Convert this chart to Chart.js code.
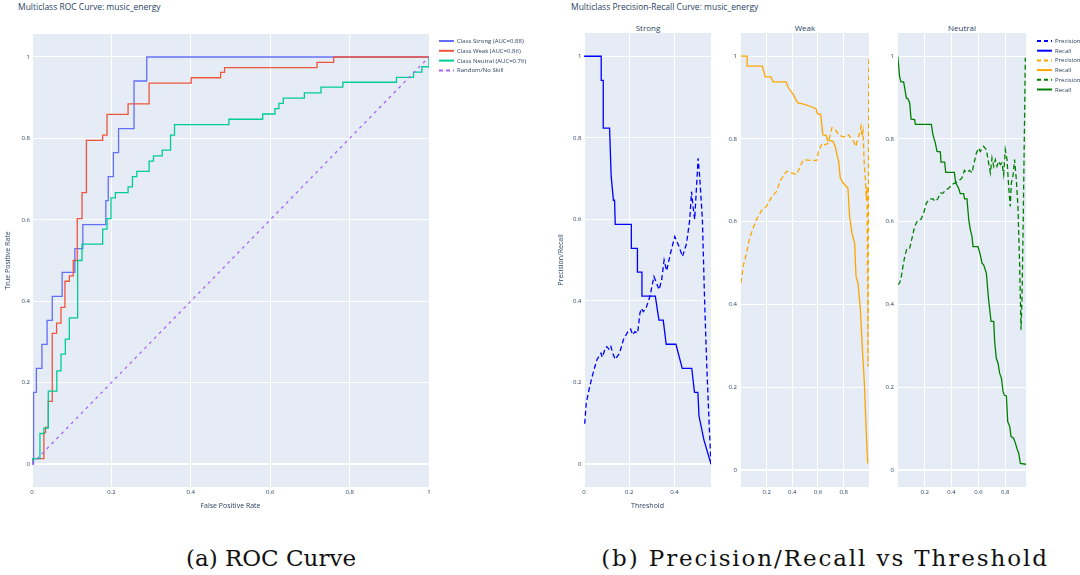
<!DOCTYPE html>
<html>
<head>
<meta charset="utf-8">
<title>music_energy ROC and precision/recall curves</title>
<script src="https://cdn.jsdelivr.net/npm/chart.js@4.4.1/dist/chart.umd.min.js"></script>
<style>
  html, body { margin: 0; padding: 0; background: #fff; }
  body { position: relative; width: 1080px; height: 575px; overflow: hidden; font-family: "Open Sans", sans-serif; }
  canvas { position: absolute; top: 0; }
  .title { position: absolute; top: 2px; font-size: 8.5px; line-height: 10px; color: #2a3f5f; white-space: nowrap; }
  .sub { position: absolute; top: 23px; width: 128px; text-align: center; font-size: 8px; line-height: 10px; color: #2a3f5f; }
  .caption { position: absolute; top: 544px; width: 500px; text-align: center; font-family: "DejaVu Serif", serif; font-size: 23px; line-height: 28px; color: #111; white-space: nowrap; }
  #legends { position: absolute; top: 0; left: 0; }
</style>
</head>
<body>
<div class="title" style="left:18px">Multiclass ROC Curve: music_energy</div>
<div class="title" style="left:571px">Multiclass Precision-Recall Curve: music_energy</div>
<div class="sub" style="left:584px">Strong</div>
<div class="sub" style="left:741px">Weak</div>
<div class="sub" style="left:898px">Neutral</div>
<canvas id="roc"></canvas>
<canvas id="prStrong"></canvas>
<canvas id="prWeak"></canvas>
<canvas id="prNeutral"></canvas>
<svg id="legends" width="1080" height="110"></svg>
<div class="caption" style="left:21px">(a) ROC Curve</div>
<div class="caption" style="left:575px; letter-spacing:1.9px">(b) Precision/Recall vs Threshold</div>
<script>
// ROC curves (fpr / tpr corner points)
const rocStrongFpr = [0, 0.004, 0.004, 0.011, 0.011, 0.025, 0.025, 0.038, 0.038, 0.051, 0.051, 0.076, 0.076, 0.108, 0.108, 0.128, 0.128, 0.186, 0.186, 0.192, 0.192, 0.205, 0.205, 0.218, 0.218, 0.257, 0.257, 0.289, 0.289, 1];
const rocStrongTpr = [0, 0, 0.176, 0.176, 0.235, 0.235, 0.294, 0.294, 0.353, 0.353, 0.412, 0.412, 0.471, 0.471, 0.529, 0.529, 0.588, 0.588, 0.647, 0.647, 0.706, 0.706, 0.765, 0.765, 0.824, 0.824, 0.941, 0.941, 1, 1];
const rocWeakFpr = [0, 0, 0.03, 0.03, 0.034, 0.034, 0.041, 0.041, 0.051, 0.051, 0.062, 0.062, 0.073, 0.073, 0.083, 0.083, 0.094, 0.094, 0.104, 0.104, 0.114, 0.114, 0.126, 0.126, 0.137, 0.137, 0.178, 0.178, 0.189, 0.189, 0.242, 0.242, 0.295, 0.295, 0.401, 0.401, 0.475, 0.475, 0.485, 0.485, 0.718, 0.718, 0.76, 0.76, 1];
const rocWeakTpr = [0, 0.013, 0.013, 0.077, 0.077, 0.09, 0.09, 0.154, 0.154, 0.321, 0.321, 0.346, 0.346, 0.385, 0.385, 0.449, 0.449, 0.462, 0.462, 0.5, 0.5, 0.603, 0.603, 0.667, 0.667, 0.795, 0.795, 0.808, 0.808, 0.859, 0.859, 0.885, 0.885, 0.936, 0.936, 0.949, 0.949, 0.962, 0.962, 0.974, 0.974, 0.987, 0.987, 1, 1];
const rocNeutralFpr = [0, 0, 0.02, 0.02, 0.03, 0.03, 0.041, 0.041, 0.0625, 0.0625, 0.073, 0.073, 0.084, 0.084, 0.094, 0.094, 0.115, 0.115, 0.126, 0.126, 0.178, 0.178, 0.189, 0.189, 0.199, 0.199, 0.21, 0.21, 0.242, 0.242, 0.253, 0.253, 0.264, 0.264, 0.295, 0.295, 0.306, 0.306, 0.328, 0.328, 0.349, 0.349, 0.359, 0.359, 0.496, 0.496, 0.581, 0.581, 0.612, 0.612, 0.622, 0.622, 0.633, 0.633, 0.686, 0.686, 0.728, 0.728, 0.783, 0.783, 0.918, 0.918, 0.961, 0.961, 0.982, 0.982, 1, 1];
const rocNeutralTpr = [0, 0.013, 0.013, 0.075, 0.075, 0.088, 0.088, 0.179, 0.179, 0.229, 0.229, 0.27, 0.27, 0.307, 0.307, 0.359, 0.359, 0.5, 0.5, 0.54, 0.54, 0.577, 0.577, 0.603, 0.603, 0.654, 0.654, 0.667, 0.667, 0.681, 0.681, 0.706, 0.706, 0.719, 0.719, 0.744, 0.744, 0.757, 0.757, 0.771, 0.771, 0.808, 0.808, 0.834, 0.834, 0.847, 0.847, 0.86, 0.86, 0.873, 0.873, 0.886, 0.886, 0.899, 0.899, 0.912, 0.912, 0.926, 0.926, 0.938, 0.938, 0.95, 0.95, 0.963, 0.963, 0.976, 0.976, 1];
const rocRandom = [0, 1];
const rocLabels = ['Class Strong (AUC=0.88)', 'Class Weak (AUC=0.86)', 'Class Neutral (AUC=0.76)', 'Random/No Skill'];
const rocTicks = [0, 0.2, 0.4, 0.6, 0.8, 1];

// precision / recall against threshold
const strongRecThr = [0, 0.076, 0.076, 0.085, 0.085, 0.113, 0.12, 0.13, 0.135, 0.138, 0.209, 0.209, 0.236, 0.236, 0.256, 0.256, 0.315, 0.331, 0.35, 0.363, 0.406, 0.434, 0.476, 0.488, 0.503, 0.508, 0.53, 0.561];
const strongRec = [1, 1, 0.941, 0.941, 0.824, 0.824, 0.706, 0.647, 0.647, 0.588, 0.588, 0.529, 0.529, 0.471, 0.471, 0.412, 0.412, 0.353, 0.353, 0.294, 0.294, 0.235, 0.235, 0.176, 0.176, 0.118, 0.059, 0];
const strongPrecThr = [0.003, 0.010, 0.025, 0.040, 0.057, 0.075, 0.081, 0.094, 0.101, 0.113, 0.119, 0.127, 0.138, 0.157, 0.174, 0.196, 0.206, 0.215, 0.225, 0.237, 0.247, 0.254, 0.262, 0.274, 0.291, 0.309, 0.320, 0.332, 0.343, 0.354, 0.365, 0.382, 0.401, 0.420, 0.435, 0.453, 0.467, 0.475, 0.482, 0.489, 0.497, 0.504, 0.511, 0.523, 0.533, 0.543, 0.552, 0.561];
const strongPrec = [0.099, 0.150, 0.190, 0.223, 0.256, 0.272, 0.262, 0.284, 0.288, 0.280, 0.288, 0.272, 0.257, 0.272, 0.305, 0.327, 0.331, 0.317, 0.325, 0.321, 0.370, 0.382, 0.374, 0.382, 0.411, 0.460, 0.444, 0.428, 0.452, 0.500, 0.474, 0.517, 0.558, 0.533, 0.509, 0.541, 0.599, 0.668, 0.630, 0.600, 0.680, 0.750, 0.705, 0.600, 0.395, 0.231, 0.109, 0];

const weakRecThr = [0, 0.048, 0.048, 0.166, 0.19, 0.233, 0.25, 0.351, 0.37, 0.408, 0.442, 0.481, 0.539, 0.585, 0.596, 0.622, 0.638, 0.664, 0.675, 0.717, 0.735, 0.748, 0.761, 0.774, 0.795, 0.834, 0.847, 0.865, 0.886, 0.897, 0.912, 0.931, 0.944, 0.962, 0.977, 0.988];
const weakRec = [1, 1, 0.976, 0.976, 0.95, 0.95, 0.938, 0.938, 0.923, 0.907, 0.887, 0.885, 0.879, 0.873, 0.861, 0.859, 0.81, 0.808, 0.797, 0.794, 0.782, 0.762, 0.746, 0.706, 0.694, 0.681, 0.613, 0.573, 0.548, 0.468, 0.452, 0.387, 0.306, 0.21, 0.089, 0.016];
const weakPrecThr = [0, 0.017, 0.043, 0.064, 0.09, 0.121, 0.16, 0.199, 0.226, 0.252, 0.278, 0.304, 0.33, 0.356, 0.395, 0.434, 0.461, 0.487, 0.539, 0.591, 0.604, 0.63, 0.656, 0.675, 0.69, 0.709, 0.735, 0.761, 0.787, 0.813, 0.839, 0.857, 0.878, 0.896, 0.909, 0.925, 0.936, 0.944, 0.951, 0.962, 0.97, 0.977, 0.983, 0.988, 0.99, 0.993, 0.996];
const weakPrec = [0.452, 0.492, 0.524, 0.556, 0.581, 0.605, 0.627, 0.637, 0.653, 0.665, 0.673, 0.698, 0.71, 0.722, 0.718, 0.714, 0.734, 0.75, 0.748, 0.748, 0.77, 0.789, 0.786, 0.789, 0.802, 0.827, 0.823, 0.81, 0.806, 0.805, 0.81, 0.802, 0.794, 0.782, 0.798, 0.815, 0.831, 0.806, 0.819, 0.734, 0.702, 0.653, 0.685, 0.411, 0.25, 0.573, 1];

const neutralRecThr = [0, 0.007, 0.014, 0.024, 0.044, 0.052, 0.064, 0.076, 0.089, 0.099, 0.126, 0.131, 0.25, 0.262, 0.28, 0.292, 0.317, 0.322, 0.349, 0.357, 0.421, 0.431, 0.453, 0.465, 0.49, 0.497, 0.515, 0.528, 0.54, 0.552, 0.56, 0.597, 0.614, 0.627, 0.639, 0.659, 0.676, 0.694, 0.714, 0.721, 0.733, 0.746, 0.758, 0.771, 0.783, 0.793, 0.808, 0.818, 0.833, 0.843, 0.862, 0.875, 0.887, 0.9, 0.912, 0.954];
const neutralRec = [1, 0.976, 0.95, 0.938, 0.938, 0.923, 0.899, 0.897, 0.887, 0.848, 0.847, 0.835, 0.835, 0.81, 0.79, 0.77, 0.769, 0.744, 0.744, 0.719, 0.719, 0.694, 0.681, 0.668, 0.668, 0.655, 0.655, 0.605, 0.581, 0.565, 0.54, 0.54, 0.52, 0.5, 0.496, 0.476, 0.411, 0.359, 0.359, 0.31, 0.27, 0.258, 0.234, 0.222, 0.19, 0.181, 0.179, 0.117, 0.105, 0.081, 0.077, 0.065, 0.052, 0.04, 0.016, 0.014];
const neutralPrecThr = [0.002, 0.014, 0.027, 0.039, 0.052, 0.069, 0.089, 0.106, 0.126, 0.148, 0.173, 0.193, 0.213, 0.238, 0.262, 0.28, 0.297, 0.317, 0.337, 0.354, 0.379, 0.404, 0.429, 0.453, 0.478, 0.496, 0.515, 0.535, 0.552, 0.565, 0.585, 0.602, 0.614, 0.627, 0.639, 0.659, 0.676, 0.689, 0.701, 0.714, 0.726, 0.738, 0.75, 0.763, 0.775, 0.788, 0.8, 0.813, 0.825, 0.837, 0.845, 0.857, 0.869, 0.882, 0.894, 0.907, 0.917, 0.924, 0.932, 0.942, 0.949];
const neutralPrec = [0.448, 0.452, 0.468, 0.492, 0.516, 0.536, 0.536, 0.56, 0.589, 0.603, 0.606, 0.621, 0.645, 0.655, 0.655, 0.649, 0.655, 0.669, 0.669, 0.676, 0.681, 0.69, 0.694, 0.698, 0.706, 0.724, 0.719, 0.724, 0.718, 0.738, 0.766, 0.778, 0.77, 0.776, 0.782, 0.774, 0.742, 0.718, 0.754, 0.734, 0.75, 0.734, 0.746, 0.738, 0.742, 0.714, 0.774, 0.75, 0.685, 0.637, 0.694, 0.71, 0.75, 0.702, 0.637, 0.492, 0.339, 0.411, 0.573, 0.815, 0.996];

const prLabels = ['Precision', 'Recall'];
const prYTicks = [0, 0.2, 0.4, 0.6, 0.8, 1];
const strongXTicks = [0, 0.2, 0.4];
const weakXTicks = [0.2, 0.4, 0.6, 0.8];
const neutralXTicks = [0.2, 0.4, 0.6, 0.8];

const zip = (xs, ys) => xs.map((x, i) => ({ x: x, y: ys[i] }));
const fmt = v => String(Math.round(v * 100) / 100);
const ink = '#2a3f5f';

// gray plotting area like the plotly template
const plotBg = {
  id: 'plotBg',
  beforeDraw(chart) {
    const a = chart.chartArea;
    const ctx = chart.ctx;
    ctx.save();
    ctx.fillStyle = '#E5ECF6';
    ctx.fillRect(a.left, a.top, a.right - a.left, a.bottom - a.top);
    ctx.restore();
  }
};

function line(data, color, dash) {
  return {
    data: data,
    showLine: true,
    borderColor: color,
    backgroundColor: color,
    borderWidth: 1.3,
    borderDash: dash || [],
    pointRadius: 0,
    fill: false
  };
}

function makePanel(id, box, datasets) {
  const canvas = document.getElementById(id);
  const padRight = 14;
  canvas.width = box.right - box.left + box.axisW + padRight;
  canvas.height = 520;
  canvas.style.left = (box.left - box.axisW) + 'px';
  const tickFont = { family: 'Open Sans', size: 6 };
  const titleFont = { family: 'Open Sans', size: 7 };
  const grid = {
    color: '#ffffff',
    lineWidth: c => (c.tick && c.tick.value === 0 ? 2 : 1),
    drawTicks: false
  };
  return new Chart(canvas, {
    type: 'scatter',
    data: { datasets: datasets },
    options: {
      responsive: false,
      animation: false,
      events: [],
      layout: { padding: { top: box.top, right: padRight, bottom: 0, left: 0 } },
      plugins: { legend: { display: false }, tooltip: { enabled: false } },
      elements: { line: { tension: 0 } },
      scales: {
        x: {
          type: 'linear',
          min: box.xMin,
          max: box.xMax,
          afterBuildTicks: s => { s.ticks = box.xTicks.map(v => ({ value: v })); },
          afterFit: s => { s.height = 520 - box.bottom; },
          grid: grid,
          border: { display: false },
          ticks: { font: tickFont, color: ink, padding: 2, maxRotation: 0, autoSkip: false, callback: v => fmt(v) },
          title: { display: !!box.xTitle, text: box.xTitle || '', font: titleFont, color: ink, padding: { top: 0, bottom: 10 } }
        },
        y: {
          type: 'linear',
          min: box.yMin,
          max: box.yMax,
          afterBuildTicks: s => { s.ticks = box.yTicks.map(v => ({ value: v })); },
          afterFit: s => { s.width = box.axisW; },
          grid: grid,
          border: { display: false },
          ticks: { font: tickFont, color: ink, padding: box.tickPad, autoSkip: false, callback: v => fmt(v) },
          title: { display: !!box.yTitle, text: box.yTitle || '', font: titleFont, color: ink, padding: { top: box.yTitlePad || 0, bottom: 0 } }
        }
      }
    },
    plugins: [plotBg]
  });
}

// (a) ROC
makePanel('roc', {
  left: 32, right: 429, top: 34, bottom: 487, axisW: 32, tickPad: 2,
  xMin: 0, xMax: 1, yMin: -0.0565, yMax: 1.0565,
  xTicks: rocTicks, yTicks: rocTicks,
  xTitle: 'False Positive Rate', yTitle: 'True Positive Rate', yTitlePad: 4
}, [
  line(zip(rocRandom, rocRandom), '#AB63FA', [3, 4]),
  line(zip(rocNeutralFpr, rocNeutralTpr), '#00CC96'),
  line(zip(rocWeakFpr, rocWeakTpr), '#EF553B'),
  line(zip(rocStrongFpr, rocStrongTpr), '#636EFA')
]);

// (b) precision / recall vs threshold
makePanel('prStrong', {
  left: 584, right: 711, top: 33, bottom: 487, axisW: 34, tickPad: 2.5,
  xMin: 0, xMax: 0.561, yMin: -0.056, yMax: 1.057,
  xTicks: strongXTicks, yTicks: prYTicks,
  xTitle: 'Threshold', yTitle: 'Precision/Recall', yTitlePad: 7
}, [
  line(zip(strongRecThr, strongRec), '#0000FF'),
  line(zip(strongPrecThr, strongPrec), '#0000FF', [5, 3])
]);

makePanel('prWeak', {
  left: 741, right: 869, top: 33, bottom: 487, axisW: 20, tickPad: 4,
  xMin: 0, xMax: 0.998, yMin: -0.041, yMax: 1.056,
  xTicks: weakXTicks, yTicks: prYTicks
}, [
  line(zip(weakRecThr, weakRec), '#FFA500'),
  line(zip(weakPrecThr, weakPrec), '#FFA500', [5, 3])
]);

makePanel('prNeutral', {
  left: 898, right: 1026, top: 33, bottom: 487, axisW: 20, tickPad: 4,
  xMin: 0.002, xMax: 0.954, yMin: -0.041, yMax: 1.056,
  xTicks: neutralXTicks, yTicks: prYTicks
}, [
  line(zip(neutralRecThr, neutralRec), '#008000'),
  line(zip(neutralPrecThr, neutralPrec), '#008000', [5, 3])
]);

// legends
const svg = document.getElementById('legends');
const NS = 'http://www.w3.org/2000/svg';
function legendRow(x, y, color, dash, text) {
  const l = document.createElementNS(NS, 'line');
  l.setAttribute('x1', x); l.setAttribute('x2', x + 15);
  l.setAttribute('y1', y); l.setAttribute('y2', y);
  l.setAttribute('stroke', color);
  l.setAttribute('stroke-width', 2);
  if (dash) l.setAttribute('stroke-dasharray', dash);
  svg.appendChild(l);
  const t = document.createElementNS(NS, 'text');
  t.setAttribute('x', x + 18);
  t.setAttribute('y', y);
  t.setAttribute('dominant-baseline', 'central');
  t.setAttribute('font-family', 'Open Sans');
  t.setAttribute('font-size', 6);
  t.setAttribute('fill', ink);
  t.textContent = text;
  svg.appendChild(t);
}
const rocColors = ['#636EFA', '#EF553B', '#00CC96', '#AB63FA'];
rocLabels.forEach((lab, i) => legendRow(439, 41 + i * 9.8, rocColors[i], i === 3 ? '4,3' : null, lab));
const prColors = ['#0000FF', '#FFA500', '#008000'];
prColors.forEach((c, k) => {
  legendRow(1037, 41 + (2 * k) * 9.7, c, '4,3', prLabels[0]);
  legendRow(1037, 41 + (2 * k + 1) * 9.7, c, null, prLabels[1]);
});
</script>
</body>
</html>
